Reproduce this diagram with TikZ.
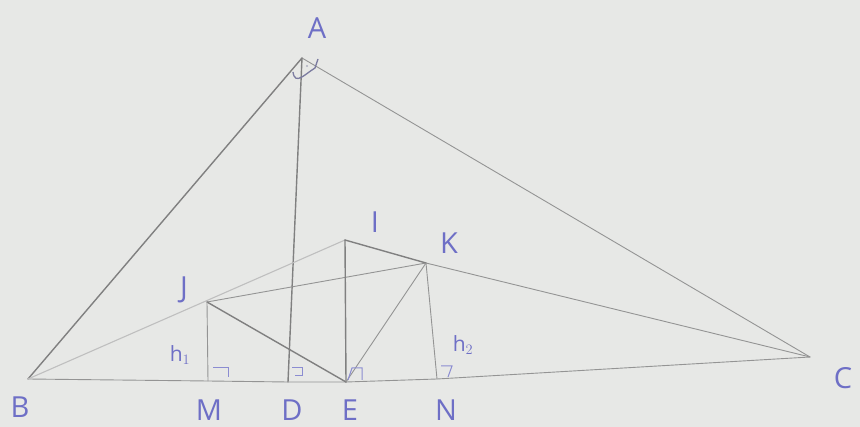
\documentclass[tikz,border=0pt]{standalone}
\usepackage{fontspec}
\setsansfont{Open Sans}
\usetikzlibrary{calc}
\begin{document}
\begin{tikzpicture}[x=1pt,y=-1pt,
  seg/.style={draw=black!50, line width=1.4pt, line cap=round, line join=round},
  thinseg/.style={draw=black!42, line width=0.9pt, line cap=round},
  faint/.style={draw=black!25, line width=1.1pt, line cap=round},
  lbl/.style={text=inkblue, font=\sffamily\fontsize{29}{29}\selectfont\mdseries, inner sep=0pt},
  small/.style={text=inkblue, font=\sffamily\fontsize{21}{21}\selectfont, inner sep=0pt},
  rmark/.style={draw=inkblue!80, line width=1pt}]
\definecolor{inkblue}{HTML}{6E6FC6}
\definecolor{paper}{HTML}{E7E8E6}
\fill[paper] (0,0) rectangle (860,427);
\useasboundingbox (0,0) rectangle (860,427);
% points
\coordinate (A) at (302,58);
\coordinate (B) at (28,379);
\coordinate (C) at (810,357);
\coordinate (M) at (208,381);
\coordinate (D) at (288,382);
\coordinate (E) at (346,382);
\coordinate (N) at (437,379);
\coordinate (J) at (207,302);
\coordinate (I) at (345,240);
\coordinate (K) at (426,263);
% triangle
\draw[seg] (B) -- (A);
\draw[thinseg] (A) -- (C);
\draw[thinseg] (B) -- (M) -- (D) -- (E) -- (N) -- (C);
\draw[seg] (A) -- (D);
% inner lines
\draw[faint] (B) -- (I);
\draw[thinseg] (J) -- (K);
\draw[seg] (J) -- (E);
\draw[seg] (I) -- (E);
\draw[seg] (I) -- (K);
\draw[thinseg] (K) -- (C);
\draw[thinseg] (K) -- (E);
\draw[thinseg] (J) -- (M);
\draw[thinseg] (K) -- (N);
% right-angle marks
\draw[rmark] ($(M)+(5,-13)$) -- ($(M)+(20,-13)$) -- ($(M)+(20,-4)$);
\draw[rmark] ($(D)+(4,-14)$) -- ($(D)+(14,-14)$) -- ($(D)+(14,-6)$) -- ($(D)+(7,-6)$);
\draw[rmark] ($(E)+(2,-2)$) -- ($(E)+(6,-14)$) -- ($(E)+(16,-14)$) -- ($(E)+(16,-2)$);
\draw[rmark] ($(N)+(4,-13)$) -- ($(N)+(15,-13)$) -- ($(N)+(11,-2)$);
\draw[draw=inkblue!60!black!70, line width=1.3pt] (A) ++(-9,14) .. controls +(2,14) and +(-10,6) .. ++(22,-4) -- ++(3,-9);
\fill[inkblue!50!black!40] ($(A)+(5,8)$) circle (1.2pt);
% labels
\node[lbl] (lA) at (317,28) {A};
\node[lbl] (lB) at (20,407) {B};
\node[lbl] (lC) at (843,378) {C};
\node[lbl] (lM) at (209,410) {M};
\node[lbl] (lD) at (292,410) {D};
\node[lbl] (lE) at (350,410) {E};
\node[lbl] (lN) at (446,410) {N};
\node[lbl] (lJ) at (184,290) {J};
\node[lbl] (lI) at (375,222) {I};
\node[lbl] (lK) at (449,243) {K};
\node[small] (h1) at (180,355) {h$_{1}$};
\node[small] (h2) at (463,345) {h$_{2}$};
\end{tikzpicture}
\end{document}
